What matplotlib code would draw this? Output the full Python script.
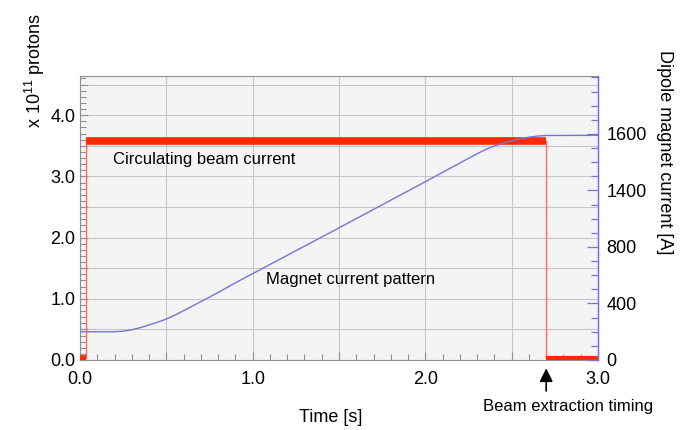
import numpy as np
import matplotlib
matplotlib.use("Agg")
import matplotlib.pyplot as plt
from matplotlib.ticker import MultipleLocator, FuncFormatter

plt.rcParams['font.family'] = ['Liberation Sans', 'DejaVu Sans']
plt.rcParams['mathtext.fontset'] = 'custom'
plt.rcParams['mathtext.rm'] = 'Liberation Sans'
plt.rcParams['mathtext.it'] = 'Liberation Sans'

# circulating beam (x 10^11 protons)
beam_t = [0.0, 0.036, 0.036, 2.70, 2.70, 3.0]
beam_v = [0.03, 0.03, 3.57, 3.57, 0.025, 0.025]

# dipole magnet current [A]
mag_t = [0.0, 0.2, 0.25, 0.3, 0.35, 0.4, 0.45, 0.5, 0.55, 0.6, 0.7, 0.8, 0.93, 1.5, 2.0, 2.3,
         2.35, 2.4, 2.45, 2.5, 2.55, 2.6, 2.65, 2.7, 3.0]
mag_a = [200, 200, 204, 214, 229, 248, 268, 290, 318, 349, 413, 478, 566, 935, 1262, 1460,
         1490, 1515, 1535, 1552, 1566, 1577, 1585, 1589, 1590]

left_ticks = [0.0, 1.0, 2.0, 3.0, 4.0]
right_ticks = [0, 400, 800, 1200, 1600]
right_labels = ['0', '400', '800', '1400', '1600']
x_ticks = [0.0, 1.0, 2.0, 3.0]

red = '#ff2a00'
blue = '#7474d6'
frame = '#909090'

fig = plt.figure(figsize=(6.87, 4.30), dpi=100)
ax = fig.add_axes([80/687, 1-360/430, 518/687, 284/430])
ax.set_facecolor('#f4f4f4')

# beam current
ax.plot(beam_t, beam_v, color='#f07070', lw=0.9, zorder=3)
ax.plot(beam_t[2:4], beam_v[2:4], color=red, lw=5.5, solid_capstyle='butt', zorder=4)
ax.plot(beam_t[0:2], beam_v[0:2], color=red, lw=4, solid_capstyle='butt', zorder=4)
ax.plot(beam_t[4:6], beam_v[4:6], color=red, lw=3, solid_capstyle='butt', zorder=4)

ax.set_xlim(0, 3.0)
ax.set_ylim(0, 4.64)
ax.xaxis.set_major_locator(MultipleLocator(0.5))
ax.xaxis.set_minor_locator(MultipleLocator(0.1))
ax.yaxis.set_major_locator(MultipleLocator(0.5))
ax.yaxis.set_minor_locator(MultipleLocator(0.1))
fmt = FuncFormatter(lambda v, p: f'{v:.1f}' if abs(v - round(v)) < 1e-6 else '')
ax.xaxis.set_major_formatter(fmt)
ax.yaxis.set_major_formatter(fmt)
ax.grid(True, which='major', color='#c6c6c6', lw=0.8)
ax.set_axisbelow(True)
ax.tick_params(which='both', direction='in', colors=frame, labelcolor='black', labelsize=13)
ax.tick_params(which='major', length=6, width=0.8)
ax.tick_params(which='minor', length=4, width=0.8)
ax.tick_params(axis='y', which='both', right=False)
ax.tick_params(axis='x', pad=8)
for s in ax.spines.values():
    s.set_color(frame)
    s.set_linewidth(0.8)

# magnet current
ax2 = ax.twinx()
ax2.plot(mag_t, mag_a, color=blue, lw=1.0)
ax2.set_ylim(0, 2010)
ax2.set_yticks(right_ticks)
ax2.set_yticklabels(right_labels)
ax2.yaxis.set_minor_locator(MultipleLocator(100))
ax2.tick_params(axis='y', which='both', direction='in', colors=blue, labelcolor='black', labelsize=13, pad=6)
ax2.tick_params(axis='y', which='major', length=8, width=0.9)
ax2.tick_params(axis='y', which='minor', length=5, width=0.9)
ax2.spines['right'].set_color(blue)
ax2.spines['right'].set_linewidth(1.0)
for k in ['left', 'top', 'bottom']:
    ax2.spines[k].set_visible(False)

ax.text(0.19, 3.28, 'Circulating beam current', fontsize=12, va='center', ha='left')
ax.text(1.08, 1.31, 'Magnet current pattern', fontsize=12, va='center', ha='left')

ax.annotate('', xy=(2.70, -0.09), xytext=(2.70, -0.55), annotation_clip=False,
            arrowprops=dict(arrowstyle='-|>', color='black', lw=1.2, mutation_scale=20))
fig.text(568/687, 1-406/430, 'Beam extraction timing', fontsize=12, ha='center', va='center')

fig.text(331/687, 1-418/430, 'Time [s]', fontsize=13, ha='center', va='center')
fig.text(35/687, 1-13/430, r'x 10$^{11}$ protons', fontsize=13, rotation=90, ha='center', va='top')
fig.text(665/687, 1-152/430, 'Dipole magnet current [A]', fontsize=13, rotation=270, ha='center', va='center')

fig.savefig('out.png', dpi=100)
